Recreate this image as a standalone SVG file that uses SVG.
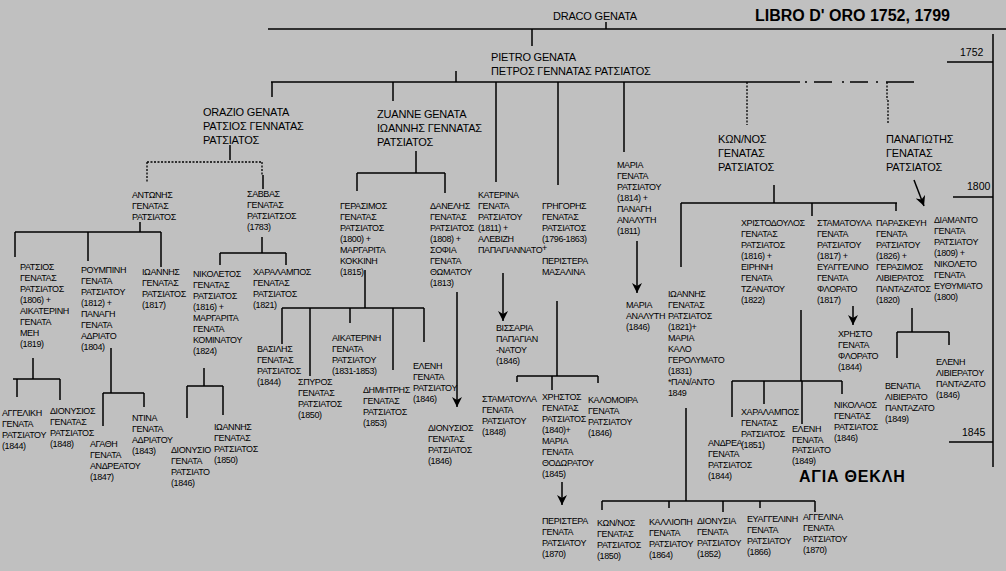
<svg xmlns="http://www.w3.org/2000/svg" width="1006" height="571" viewBox="0 0 1006 571">
<style>
.s{font-family:"Liberation Sans",Arial,sans-serif;font-size:9px;letter-spacing:-0.4px;fill:#000}
.m{font-family:"Liberation Sans",Arial,sans-serif;font-size:11px;letter-spacing:-0.2px;fill:#000}
.y{font-family:"Liberation Sans",Arial,sans-serif;font-size:10.5px;fill:#000}
.b{font-family:"Liberation Sans",Arial,sans-serif;font-weight:bold;fill:#000}
.ln{stroke:#000;stroke-width:1.5;fill:none}
.dt{stroke:#000;stroke-width:1.3;fill:none;stroke-dasharray:2 1.5}
.ar{stroke:#000;stroke-width:1.5;fill:none;marker-end:url(#ah)}
</style>
<defs>
<marker id="ah" markerUnits="userSpaceOnUse" markerWidth="10" markerHeight="10" viewBox="0 0 10 10" refX="10" refY="5" orient="auto">
<path d="M0,0 L10,5 L0,10 L3,5 z" fill="#000"/>
</marker>
</defs>
<rect x="0" y="0" width="1006" height="571" fill="#c0c0c0"/>
<g id="connectors">
<path class="ln" d="M268,29H1006 M606,22V29 M532,29V46 M993,34V467 M947,62H993 M953,197H993 M949,442H993"/>
<path class="ln" d="M456,71V82 M271,82H778 M778,82H800 M805,82H807 M814,82H832 M842,82H844 M850,82H868 M876,82H878 M886,82H914"/>
<path class="ln" d="M272,82V97 M393,82V101 M496,82V182 M558,82V185 M624,82V152"/>
<path class="dt" d="M747,82V125 M887,82V100 M888,100V123"/>
<path class="ln" d="M230,145V160 M263,175V189"/>
<path class="dt" d="M147,162H262 M147,162V183 M262,162V175"/>
<path class="ln" d="M416,151V173 M357,173H445 M357,173V191 M445,173V193"/>
<path class="ln" d="M140,222V232 M15,232H161 M15,232V257 M88,232V261 M161,232V267"/>
<path class="ln" d="M262,237V253 M220,253H286 M220,253V265 M286,253V265"/>
<path class="ln" d="M33,358V379 M13,379H60 M17,379V397 M60,379V400"/>
<path class="ln" d="M111,348V393 M103,393H144 M103,393V426 M144,393V407"/>
<path class="ln" d="M204,368V386 M187,386H223 M187,386V418 M223,386V415"/>
<path class="ln" d="M365,270V308 M282,308H424 M282,308V344 M310,308V376 M350,308V323 M393,308V370 M424,308V342"/>
<path class="ar" d="M457,292V407"/>
<path class="ar" d="M503,273V321"/>
<path class="ln" d="M557,301V376 M517,376H598 M517,376V382 M552,376V390 M598,376V383"/>
<path class="ar" d="M562,482V505"/>
<path class="ar" d="M637,241V293"/>
<path class="ln" d="M774,185V203 M681,203H897 M681,203V267 M812,203V216 M896,203V211"/>
<path class="ar" d="M914,180L924,206"/>
<path class="ln" d="M801,310V381 M732,381H842 M732,381V417 M764,381V404 M802,381V424 M842,381V394"/>
<path class="ar" d="M853,306V325"/>
<path class="ln" d="M912,308V332 M897,332H949 M897,332V358 M949,332V345"/>
<path class="ln" d="M686,408V501 M602,501H815 M602,501V510 M669,501V508 M723,501V512 M760,501V508 M815,501V512"/>
</g>
<g id="title"><text class="b" x="755" y="21" font-size="16">LIBRO D' ORO 1752, 1799</text></g>
<g id="years">
<text class="y" x="960" y="56">1752</text>
<text class="y" x="967" y="190">1800</text>
<text class="y" x="962" y="436">1845</text>
</g>
<g id="n-draco"><text class="m" x="553" y="20">DRACO GENATA</text></g>
<g id="n-pietro"><text class="m" x="491" y="61"><tspan x="491">PIETRO GENATA</tspan><tspan x="491" dy="14">ΠΕΤΡΟΣ ΓΕΝΝΑΤΑΣ ΡΑΤΣΙΑΤΟΣ</tspan></text></g>
<g id="n-orazio"><text class="m" x="203" y="116"><tspan x="203">ORAZIO GENATA</tspan><tspan x="203" dy="14">ΡΑΤΣΙΟΣ ΓΕΝΝΑΤΑΣ</tspan><tspan x="203" dy="14">ΡΑΤΣΙΑΤΟΣ</tspan></text></g>
<g id="n-zuanne"><text class="m" x="377" y="118"><tspan x="377">ZUANNE GENATA</tspan><tspan x="377" dy="14">ΙΩΑΝΝΗΣ ΓΕΝΝΑΤΑΣ</tspan><tspan x="377" dy="14">ΡΑΤΣΙΑΤΟΣ</tspan></text></g>
<g id="n-konnos"><text class="m" x="718" y="143"><tspan x="718">ΚΩΝ/ΝΟΣ</tspan><tspan x="718" dy="14">ΓΕΝΑΤΑΣ</tspan><tspan x="718" dy="14">ΡΑΤΣΙΑΤΟΣ</tspan></text></g>
<g id="n-panagiotis"><text class="m" x="886" y="143"><tspan x="886">ΠΑΝΑΓΙΩΤΗΣ</tspan><tspan x="886" dy="14">ΓΕΝΑΤΑΣ</tspan><tspan x="886" dy="14">ΡΑΤΣΙΑΤΟΣ</tspan></text></g>
<g id="n-antonis"><text class="s" x="132" y="198"><tspan x="132">ΑΝΤΩΝΗΣ</tspan><tspan x="132" dy="11">ΓΕΝΑΤΑΣ</tspan><tspan x="132" dy="11">ΡΑΤΣΙΑΤΟΣ</tspan></text></g>
<g id="n-savvas"><text class="s" x="247" y="197"><tspan x="247">ΣΑΒΒΑΣ</tspan><tspan x="247" dy="11">ΓΕΝΑΤΑΣ</tspan><tspan x="247" dy="11">ΡΑΤΣΙΑΤΣΟΣ</tspan><tspan x="247" dy="11">(1783)</tspan></text></g>
<g id="n-ratsios"><text class="s" x="20" y="270"><tspan x="20">ΡΑΤΣΙΟΣ</tspan><tspan x="20" dy="11">ΓΕΝΑΤΑΣ</tspan><tspan x="20" dy="11">ΡΑΤΣΙΑΤΟΣ</tspan><tspan x="20" dy="11">(1806) +</tspan><tspan x="20" dy="11">ΑΙΚΑΤΕΡΙΝΗ</tspan><tspan x="20" dy="11">ΓΕΝΑΤΑ</tspan><tspan x="20" dy="11">ΜΕΗ</tspan><tspan x="20" dy="11">(1819)</tspan></text></g>
<g id="n-roumpini"><text class="s" x="81" y="273"><tspan x="81">ΡΟΥΜΠΙΝΗ</tspan><tspan x="81" dy="11">ΓΕΝΑΤΑ</tspan><tspan x="81" dy="11">ΡΑΤΣΙΑΤΟΥ</tspan><tspan x="81" dy="11">(1812) +</tspan><tspan x="81" dy="11">ΠΑΝΑΓΗ</tspan><tspan x="81" dy="11">ΓΕΝΑΤΑ</tspan><tspan x="81" dy="11">ΑΔΡΙΑΤΟ</tspan><tspan x="81" dy="11">(1804)</tspan></text></g>
<g id="n-ioannis1"><text class="s" x="142" y="275"><tspan x="142">ΙΩΑΝΝΗΣ</tspan><tspan x="142" dy="11">ΓΕΝΑΤΑΣ</tspan><tspan x="142" dy="11">ΡΑΤΣΙΑΤΟΣ</tspan><tspan x="142" dy="11">(1817)</tspan></text></g>
<g id="n-nikoletos"><text class="s" x="193" y="277"><tspan x="193">ΝΙΚΟΛΕΤΟΣ</tspan><tspan x="193" dy="11">ΓΕΝΑΤΑΣ</tspan><tspan x="193" dy="11">ΡΑΤΣΙΑΤΟΣ</tspan><tspan x="193" dy="11">(1816) +</tspan><tspan x="193" dy="11">ΜΑΡΓΑΡΙΤΑ</tspan><tspan x="193" dy="11">ΓΕΝΑΤΑ</tspan><tspan x="193" dy="11">ΚΟΜΙΝΑΤΟΥ</tspan><tspan x="193" dy="11">(1824)</tspan></text></g>
<g id="n-charalampos1"><text class="s" x="253" y="275"><tspan x="253">ΧΑΡΑΛΑΜΠΟΣ</tspan><tspan x="253" dy="11">ΓΕΝΑΤΑΣ</tspan><tspan x="253" dy="11">ΡΑΤΣΙΑΤΟΣ</tspan><tspan x="253" dy="11">(1821)</tspan></text></g>
<g id="n-gerasimos"><text class="s" x="340" y="209"><tspan x="340">ΓΕΡΑΣΙΜΟΣ</tspan><tspan x="340" dy="11">ΓΕΝΑΤΑΣ</tspan><tspan x="340" dy="11">ΡΑΤΣΙΑΤΟΣ</tspan><tspan x="340" dy="11">(1800) +</tspan><tspan x="340" dy="11">ΜΑΡΓΑΡΙΤΑ</tspan><tspan x="340" dy="11">ΚΟΚΚΙΝΗ</tspan><tspan x="340" dy="11">(1815)</tspan></text></g>
<g id="n-danelis"><text class="s" x="430" y="209"><tspan x="430">ΔΑΝΕΛΗΣ</tspan><tspan x="430" dy="11">ΓΕΝΑΤΑΣ</tspan><tspan x="430" dy="11">ΡΑΤΣΙΑΤΟΣ</tspan><tspan x="430" dy="11">(1808) +</tspan><tspan x="430" dy="11">ΣΟΦΙΑ</tspan><tspan x="430" dy="11">ΓΕΝΑΤΑ</tspan><tspan x="430" dy="11">ΘΩΜΑΤΟΥ</tspan><tspan x="430" dy="11">(1813)</tspan></text></g>
<g id="n-katerina"><text class="s" x="478" y="198"><tspan x="478">ΚΑΤΕΡΙΝΑ</tspan><tspan x="478" dy="11">ΓΕΝΑΤΑ</tspan><tspan x="478" dy="11">ΡΑΤΣΙΑΤΟΥ</tspan><tspan x="478" dy="11">(1811) +</tspan><tspan x="478" dy="11">ΑΛΕΒΙΖΗ</tspan><tspan x="478" dy="11">ΠΑΠΑΓΙΑΝΝΑΤΟ</tspan></text></g>
<g id="n-grigoris"><text class="s" x="542" y="209"><tspan x="542">ΓΡΗΓΟΡΗΣ</tspan><tspan x="542" dy="11">ΓΕΝΑΤΑΣ</tspan><tspan x="542" dy="11">ΡΑΤΣΙΑΤΟΣ</tspan><tspan x="542" dy="11">(1796-1863)</tspan><tspan x="542" dy="9">+</tspan><tspan x="542" dy="13">ΠΕΡΙΣΤΕΡΑ</tspan><tspan x="542" dy="11">ΜΑΣΑΛΙΝΑ</tspan></text></g>
<g id="n-maria1"><text class="s" x="617" y="168"><tspan x="617">ΜΑΡΙΑ</tspan><tspan x="617" dy="11">ΓΕΝΑΤΑ</tspan><tspan x="617" dy="11">ΡΑΤΣΙΑΤΟΥ</tspan><tspan x="617" dy="11">(1814) +</tspan><tspan x="617" dy="11">ΠΑΝΑΓΗ</tspan><tspan x="617" dy="11">ΑΝΑΛΥΤΗ</tspan><tspan x="617" dy="11">(1811)</tspan></text></g>
<g id="n-vissaria"><text class="s" x="496" y="331"><tspan x="496">ΒΙΣΣΑΡΙΑ</tspan><tspan x="496" dy="11">ΠΑΠΑΓΙΑΝ</tspan><tspan x="496" dy="11">-ΝΑΤΟΥ</tspan><tspan x="496" dy="11">(1846)</tspan></text></g>
<g id="n-maria2"><text class="s" x="626" y="308"><tspan x="626">ΜΑΡΙΑ</tspan><tspan x="626" dy="11">ΑΝΑΛΥΤΗ</tspan><tspan x="626" dy="11">(1846)</tspan></text></g>
<g id="n-ioannis2"><text class="s" x="668" y="297"><tspan x="668">ΙΩΑΝΝΗΣ</tspan><tspan x="668" dy="11">ΓΕΝΑΤΑΣ</tspan><tspan x="668" dy="11">ΡΑΤΣΙΑΤΟΣ</tspan><tspan x="668" dy="11">(1821)+</tspan><tspan x="668" dy="11">ΜΑΡΙΑ</tspan><tspan x="668" dy="11">ΚΑΛΟ</tspan><tspan x="668" dy="11">ΓΕΡΟΛΥΜΑΤΟ</tspan><tspan x="668" dy="11">(1831)</tspan><tspan x="668" dy="11">*ΠΑΝ/ΑΝΤΟ</tspan><tspan x="668" dy="11">1849</tspan></text></g>
<g id="n-christodoulos"><text class="s" x="741" y="226"><tspan x="741">ΧΡΙΣΤΟΔΟΥΛΟΣ</tspan><tspan x="741" dy="11">ΓΕΝΑΤΑΣ</tspan><tspan x="741" dy="11">ΡΑΤΣΙΑΤΟΣ</tspan><tspan x="741" dy="11">(1816) +</tspan><tspan x="741" dy="11">ΕΙΡΗΝΗ</tspan><tspan x="741" dy="11">ΓΕΝΑΤΑ</tspan><tspan x="741" dy="11">ΤΖΑΝΑΤΟΥ</tspan><tspan x="741" dy="11">(1822)</tspan></text></g>
<g id="n-stamatoula1"><text class="s" x="817" y="226"><tspan x="817">ΣΤΑΜΑΤΟΥΛΑ</tspan><tspan x="817" dy="11">ΓΕΝΑΤΑ</tspan><tspan x="817" dy="11">ΡΑΤΣΙΑΤΟΥ</tspan><tspan x="817" dy="11">(1817) +</tspan><tspan x="817" dy="11">ΕΥΑΓΓΕΛΙΝΟ</tspan><tspan x="817" dy="11">ΓΕΝΑΤΑ</tspan><tspan x="817" dy="11">ΦΛΟΡΑΤΟ</tspan><tspan x="817" dy="11">(1817)</tspan></text></g>
<g id="n-paraskevi"><text class="s" x="876" y="226"><tspan x="876">ΠΑΡΑΣΚΕΥΗ</tspan><tspan x="876" dy="11">ΓΕΝΑΤΑ</tspan><tspan x="876" dy="11">ΡΑΤΣΙΑΤΟΥ</tspan><tspan x="876" dy="11">(1826) +</tspan><tspan x="876" dy="11">ΓΕΡΑΣΙΜΟΣ</tspan><tspan x="876" dy="11">ΛΙΒΙΕΡΑΤΟΣ</tspan><tspan x="876" dy="11">ΠΑΝΤΑΖΑΤΟΣ</tspan><tspan x="876" dy="11">(1820)</tspan></text></g>
<g id="n-diamanto"><text class="s" x="934" y="223"><tspan x="934">ΔΙΑΜΑΝΤΟ</tspan><tspan x="934" dy="11">ΓΕΝΑΤΑ</tspan><tspan x="934" dy="11">ΡΑΤΣΙΑΤΟΥ</tspan><tspan x="934" dy="11">(1809) +</tspan><tspan x="934" dy="11">ΝΙΚΟΛΕΤΟ</tspan><tspan x="934" dy="11">ΓΕΝΑΤΑ</tspan><tspan x="934" dy="11">ΕΥΘΥΜΙΑΤΟ</tspan><tspan x="934" dy="11">(1800)</tspan></text></g>
<g id="n-christo"><text class="s" x="838" y="337"><tspan x="838">ΧΡΗΣΤΟ</tspan><tspan x="838" dy="11">ΓΕΝΑΤΑ</tspan><tspan x="838" dy="11">ΦΛΟΡΑΤΟ</tspan><tspan x="838" dy="11">(1844)</tspan></text></g>
<g id="n-eleni-liv"><text class="s" x="936" y="365"><tspan x="936">ΕΛΕΝΗ</tspan><tspan x="936" dy="11">ΛΙΒΙΕΡΑΤΟΥ</tspan><tspan x="936" dy="11">ΠΑΝΤΑΖΑΤΟ</tspan><tspan x="936" dy="11">(1846)</tspan></text></g>
<g id="n-venatia"><text class="s" x="885" y="389"><tspan x="885">ΒΕΝΑΤΙΑ</tspan><tspan x="885" dy="11">ΛΙΒΙΕΡΑΤΟ</tspan><tspan x="885" dy="11">ΠΑΝΤΑΖΑΤΟ</tspan><tspan x="885" dy="11">(1849)</tspan></text></g>
<g id="n-andrea"><text class="s" x="708" y="446"><tspan x="708">ΑΝΔΡΕΑ</tspan><tspan x="708" dy="11">ΓΕΝΑΤΑ</tspan><tspan x="708" dy="11">ΡΑΤΣΙΑΤΟΣ</tspan><tspan x="708" dy="11">(1844)</tspan></text></g>
<g id="n-charalampos2"><text class="s" x="741" y="415"><tspan x="741">ΧΑΡΑΛΑΜΠΟΣ</tspan><tspan x="741" dy="11">ΓΕΝΑΤΑΣ</tspan><tspan x="741" dy="11">ΡΑΤΣΙΑΤΟΣ</tspan><tspan x="741" dy="11">(1851)</tspan></text></g>
<g id="n-eleni2"><text class="s" x="792" y="432"><tspan x="792">ΕΛΕΝΗ</tspan><tspan x="792" dy="10.5">ΓΕΝΑΤΑ</tspan><tspan x="792" dy="10.5">ΡΑΤΣΙΑΤΟ</tspan><tspan x="792" dy="10.5">(1849)</tspan></text></g>
<g id="n-nikolaos"><text class="s" x="834" y="408"><tspan x="834">ΝΙΚΟΛΑΟΣ</tspan><tspan x="834" dy="11">ΓΕΝΑΤΑΣ</tspan><tspan x="834" dy="11">ΡΑΤΣΙΑΤΟΣ</tspan><tspan x="834" dy="11">(1846)</tspan></text></g>
<g id="agia-thekli"><text class="b" x="799" y="482" font-size="16" letter-spacing="0.8">ΑΓΙΑ ΘΕΚΛΗ</text></g>
<g id="n-aggeliki"><text class="s" x="2" y="416"><tspan x="2">ΑΓΓΕΛΙΚΗ</tspan><tspan x="2" dy="11">ΓΕΝΑΤΑ</tspan><tspan x="2" dy="11">ΡΑΤΣΙΑΤΟΥ</tspan><tspan x="2" dy="11">(1844)</tspan></text></g>
<g id="n-dionysios1"><text class="s" x="50" y="414"><tspan x="50">ΔΙΟΝΥΣΙΟΣ</tspan><tspan x="50" dy="11">ΓΕΝΑΤΑΣ</tspan><tspan x="50" dy="11">ΡΑΤΣΙΑΤΟΣ</tspan><tspan x="50" dy="11">(1848)</tspan></text></g>
<g id="n-agathi"><text class="s" x="90" y="447"><tspan x="90">ΑΓΑΘΗ</tspan><tspan x="90" dy="11">ΓΕΝΑΤΑ</tspan><tspan x="90" dy="11">ΑΝΔΡΕΑΤΟΥ</tspan><tspan x="90" dy="11">(1847)</tspan></text></g>
<g id="n-ntina"><text class="s" x="132" y="421"><tspan x="132">ΝΤΙΝΑ</tspan><tspan x="132" dy="11">ΓΕΝΑΤΑ</tspan><tspan x="132" dy="11">ΑΔΡΙΑΤΟΥ</tspan><tspan x="132" dy="11">(1843)</tspan></text></g>
<g id="n-dionysio2"><text class="s" x="171" y="453"><tspan x="171">ΔΙΟΝΥΣΙΟ</tspan><tspan x="171" dy="11">ΓΕΝΑΤΑ</tspan><tspan x="171" dy="11">ΡΑΤΣΙΑΤΟ</tspan><tspan x="171" dy="11">(1846)</tspan></text></g>
<g id="n-ioannis3"><text class="s" x="214" y="430"><tspan x="214">ΙΩΑΝΝΗΣ</tspan><tspan x="214" dy="11">ΓΕΝΑΤΑΣ</tspan><tspan x="214" dy="11">ΡΑΤΣΙΑΤΟΣ</tspan><tspan x="214" dy="11">(1850)</tspan></text></g>
<g id="n-vasilis"><text class="s" x="257" y="352"><tspan x="257">ΒΑΣΙΛΗΣ</tspan><tspan x="257" dy="11">ΓΕΝΑΤΑΣ</tspan><tspan x="257" dy="11">ΡΑΤΣΙΑΤΟΣ</tspan><tspan x="257" dy="11">(1844)</tspan></text></g>
<g id="n-spyros"><text class="s" x="298" y="385"><tspan x="298">ΣΠΥΡΟΣ</tspan><tspan x="298" dy="11">ΓΕΝΑΤΑΣ</tspan><tspan x="298" dy="11">ΡΑΤΣΙΑΤΟΣ</tspan><tspan x="298" dy="11">(1850)</tspan></text></g>
<g id="n-aikaterini"><text class="s" x="332" y="341"><tspan x="332">ΑΙΚΑΤΕΡΙΝΗ</tspan><tspan x="332" dy="11">ΓΕΝΑΤΑ</tspan><tspan x="332" dy="11">ΡΑΤΣΙΑΤΟΥ</tspan><tspan x="332" dy="11">(1831-1853)</tspan></text></g>
<g id="n-dimitris"><text class="s" x="363" y="393"><tspan x="363">ΔΗΜΗΤΡΗΣ</tspan><tspan x="363" dy="11">ΓΕΝΑΤΑΣ</tspan><tspan x="363" dy="11">ΡΑΤΣΙΑΤΟΣ</tspan><tspan x="363" dy="11">(1853)</tspan></text></g>
<g id="n-eleni1"><text class="s" x="413" y="369"><tspan x="413">ΕΛΕΝΗ</tspan><tspan x="413" dy="11">ΓΕΝΑΤΑ</tspan><tspan x="413" dy="11">ΡΑΤΣΙΑΤΟΥ</tspan><tspan x="413" dy="11">(1846)</tspan></text></g>
<g id="n-dionysios3"><text class="s" x="428" y="431"><tspan x="428">ΔΙΟΝΥΣΙΟΣ</tspan><tspan x="428" dy="11">ΓΕΝΑΤΑΣ</tspan><tspan x="428" dy="11">ΡΑΤΣΙΑΤΟΣ</tspan><tspan x="428" dy="11">(1846)</tspan></text></g>
<g id="n-stamatoula2"><text class="s" x="482" y="402"><tspan x="482">ΣΤΑΜΑΤΟΥΛΑ</tspan><tspan x="482" dy="11">ΓΕΝΑΤΑ</tspan><tspan x="482" dy="11">ΡΑΤΣΙΑΤΟΥ</tspan><tspan x="482" dy="11">(1848)</tspan></text></g>
<g id="n-christos"><text class="s" x="542" y="400"><tspan x="542">ΧΡΗΣΤΟΣ</tspan><tspan x="542" dy="11">ΓΕΝΑΤΑΣ</tspan><tspan x="542" dy="11">ΡΑΤΣΙΑΤΟΣ</tspan><tspan x="542" dy="11">(1840)+</tspan><tspan x="542" dy="11">ΜΑΡΙΑ</tspan><tspan x="542" dy="11">ΓΕΝΑΤΑ</tspan><tspan x="542" dy="11">ΘΟΔΩΡΑΤΟΥ</tspan><tspan x="542" dy="11">(1845)</tspan></text></g>
<g id="n-kalomoira"><text class="s" x="588" y="403"><tspan x="588">ΚΑΛΟΜΟΙΡΑ</tspan><tspan x="588" dy="11">ΓΕΝΑΤΑ</tspan><tspan x="588" dy="11">ΡΑΤΣΙΑΤΟΥ</tspan><tspan x="588" dy="11">(1846)</tspan></text></g>
<g id="n-peristera"><text class="s" x="542" y="524"><tspan x="542">ΠΕΡΙΣΤΕΡΑ</tspan><tspan x="542" dy="11">ΓΕΝΑΤΑ</tspan><tspan x="542" dy="11">ΡΑΤΣΙΑΤΟΥ</tspan><tspan x="542" dy="11">(1870)</tspan></text></g>
<g id="n-konnos2"><text class="s" x="597" y="526"><tspan x="597">ΚΩΝ/ΝΟΣ</tspan><tspan x="597" dy="11">ΓΕΝΑΤΑΣ</tspan><tspan x="597" dy="11">ΡΑΤΣΙΑΤΟΣ</tspan><tspan x="597" dy="11">(1850)</tspan></text></g>
<g id="n-kalliopi"><text class="s" x="649" y="525"><tspan x="649">ΚΑΛΛΙΟΠΗ</tspan><tspan x="649" dy="11">ΓΕΝΑΤΑ</tspan><tspan x="649" dy="11">ΡΑΤΣΙΑΤΟΥ</tspan><tspan x="649" dy="11">(1864)</tspan></text></g>
<g id="n-dionysia"><text class="s" x="697" y="524"><tspan x="697">ΔΙΟΝΥΣΙΑ</tspan><tspan x="697" dy="11">ΓΕΝΑΤΑ</tspan><tspan x="697" dy="11">ΡΑΤΣΙΑΤΟΥ</tspan><tspan x="697" dy="11">(1852)</tspan></text></g>
<g id="n-evaggelini"><text class="s" x="747" y="522"><tspan x="747">ΕΥΑΓΓΕΛΙΝΗ</tspan><tspan x="747" dy="11">ΓΕΝΑΤΑ</tspan><tspan x="747" dy="11">ΡΑΤΣΙΑΤΟΥ</tspan><tspan x="747" dy="11">(1866)</tspan></text></g>
<g id="n-aggelina"><text class="s" x="803" y="520"><tspan x="803">ΑΓΓΕΛΙΝΑ</tspan><tspan x="803" dy="11">ΓΕΝΑΤΑ</tspan><tspan x="803" dy="11">ΡΑΤΣΙΑΤΟΥ</tspan><tspan x="803" dy="11">(1870)</tspan></text></g>
</svg>
